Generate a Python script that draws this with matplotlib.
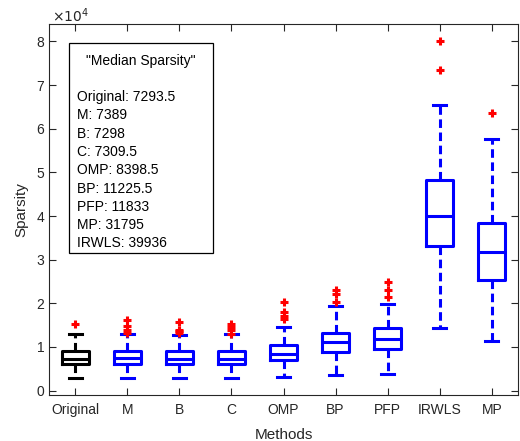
import matplotlib
matplotlib.use("Agg")
import matplotlib.pyplot as plt
from matplotlib.patches import Rectangle

plt.rcParams['font.family'] = ['Liberation Sans', 'DejaVu Sans']

methods = ["Original", "M", "B", "C", "OMP", "BP", "PFP", "IRWLS", "MP"]
whislo = [2800, 2800, 2800, 2800, 3100, 3500, 3800, 14400, 11300]
q1 = [6000, 6000, 6000, 6000, 7000, 8900, 9600, 33100, 25300]
med = [7293.5, 7389, 7298, 7309.5, 8398.5, 11225.5, 11833, 39936, 31795]
q3 = [9000, 9000, 9000, 9000, 10500, 13300, 14400, 48300, 38500]
whishi = [13000, 12900, 12800, 12900, 14600, 19300, 19800, 65500, 57600]
fliers = [
    [15200],
    [13100, 13800, 14900, 16100],
    [13300, 13600, 13900, 15700],
    [13000, 13800, 14600, 15300],
    [16500, 17200, 18000, 20200],
    [20300, 22200, 23000],
    [21400, 23000, 24900],
    [73400, 80000],
    [63600],
]
box_colors = ["black"] + ["blue"] * 8
legend_title = '"Median Sparsity"'
legend_lines = ["Original: 7293.5", "M: 7389", "B: 7298", "C: 7309.5", "OMP: 8398.5",
                "BP: 11225.5", "PFP: 11833", "MP: 31795", "IRWLS: 39936"]

W, H = 520, 441
fig = plt.figure(figsize=(W / 100, H / 100), dpi=100)
ax = fig.add_axes([49 / W, 1 - 395 / H, (518 - 49) / W, (395 - 24) / H])

stats = []
for i in range(len(methods)):
    stats.append(dict(med=med[i], q1=q1[i], q3=q3[i], whislo=whislo[i],
                      whishi=whishi[i], fliers=fliers[i], label=methods[i]))

for i, s in enumerate(stats):
    c = box_colors[i]
    ax.bxp([s], positions=[i + 1], widths=0.52, showfliers=True,
           boxprops=dict(color=c, linewidth=2.2),
           medianprops=dict(color=c, linewidth=2.2),
           whiskerprops=dict(color=c, linewidth=2.2, linestyle=(0, (2.8, 1.5))),
           capprops=dict(color=c, linewidth=2.2),
           capwidths=0.25,
           flierprops=dict(marker='+', markeredgecolor='red', markersize=6,
                           markeredgewidth=2.2, linestyle='none'))

ax.set_xlim(0.5, 9.5)
ax.set_ylim(-1000, 84000)
ax.set_xticks(range(1, 10))
ax.set_xticklabels(methods)
ax.set_yticks([i * 10000 for i in range(9)])
ax.set_yticklabels([str(i) for i in range(9)])
gray = (0.15, 0.15, 0.15)
for sp in ax.spines.values():
    sp.set_color(gray)
    sp.set_linewidth(0.8)
ax.tick_params(direction='in', top=True, right=True, length=5, width=0.8,
               colors=gray, labelsize=10, labelcolor=gray)
ax.tick_params(axis='x', pad=6)
ax.set_xlabel("Methods", fontsize=11, color=gray, labelpad=8)
ax.set_ylabel("Sparsity", fontsize=11, color=gray, labelpad=6)
fig.text(52 / W, 1 - 16 / H, r"$\times10^{4}$", fontsize=10, color=gray,
         ha='left', va='center', math_fontfamily='dejavusans')

# median legend box
rect = Rectangle((69 / W, 1 - 253 / H), (213 - 69) / W, (253 - 43) / H,
                 transform=fig.transFigure, facecolor='white', edgecolor='black',
                 linewidth=0.9, zorder=5)
fig.patches.append(rect)
fig.text(141 / W, 1 - 61 / H, legend_title, ha='center', va='center', fontsize=10, zorder=6)
for k, line in enumerate(legend_lines):
    fig.text(77 / W, 1 - (97 + 18.3 * k) / H, line, ha='left', va='center', fontsize=10, zorder=6)

fig.savefig("out.png", dpi=100)
